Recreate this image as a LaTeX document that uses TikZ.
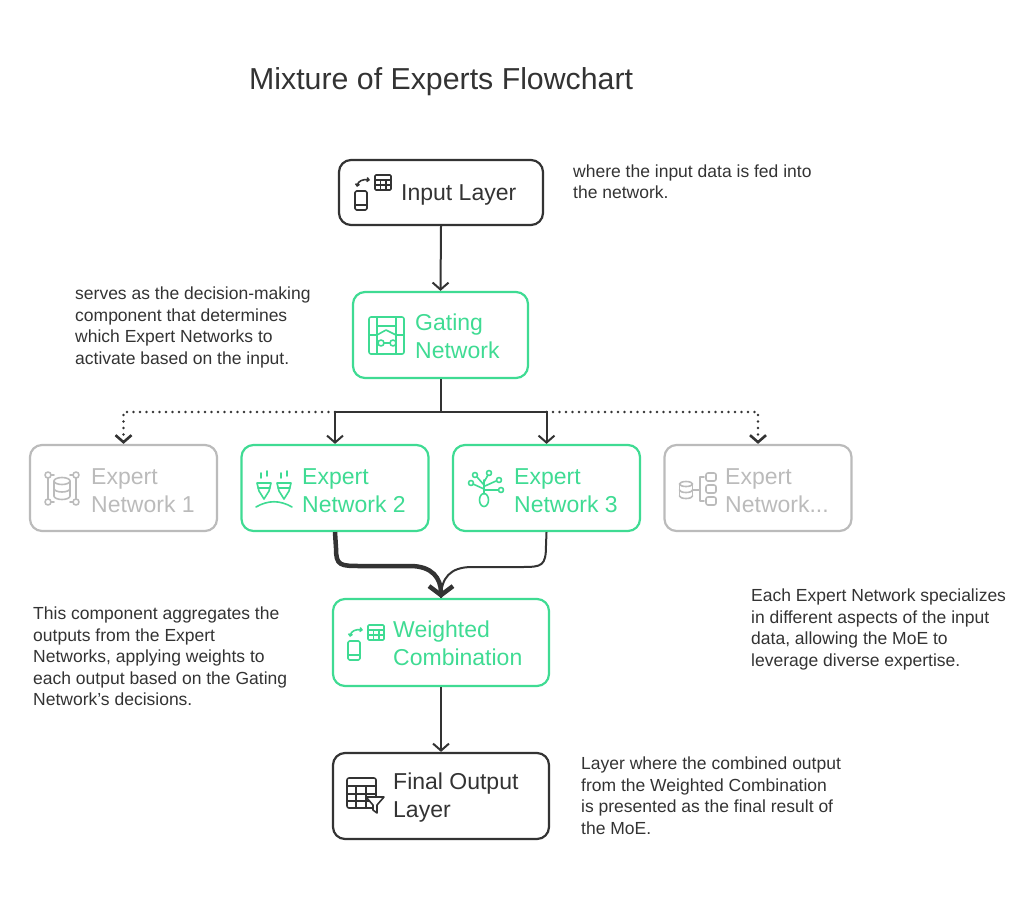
\documentclass[tikz,border=0pt]{standalone}
\usepackage{fontspec}
\setmainfont{Liberation Sans}
\usetikzlibrary{arrows.meta}
\definecolor{ink}{HTML}{333333}
\definecolor{mint}{HTML}{3FDB93}
\definecolor{ash}{HTML}{BBBBBB}
\begin{document}
\begin{tikzpicture}
[x=1pt,y=-1pt,
 boxdark/.style={draw=ink,line width=2.2pt,rounded corners=12pt,minimum height=86pt,inner sep=0pt},
 boxgreen/.style={boxdark,draw=mint},
 boxgray/.style={boxdark,draw=ash},
 boxlabel/.style={font=\fontsize{23}{28}\selectfont,align=left,inner sep=0pt,anchor=west},
 notetext/.style={font=\fontsize{17.5}{21.5}\selectfont,align=left,text=ink,inner sep=0pt,anchor=north west},
 flowarrow/.style={draw=ink,line width=2pt,-{Straight Barb[length=7pt,width=16pt]}},
 dotarrow/.style={flowarrow,line width=2.6pt,line cap=round,dash pattern=on 0pt off 6.5pt},
 heavyarrow/.style={draw=ink,line width=4.5pt,-{Straight Barb[length=9pt,width=24pt]}},
 icon/.style={line width=1.6pt,line join=round,line cap=round},
 swapicon/.pic={
   \draw[icon,rounded corners=1.5pt] (2,17) rectangle (14,36);
   \draw[icon] (2,31) -- (14,31);
   \draw[icon,rounded corners=1pt] (22,1) rectangle (38,16);
   \draw[icon] (22,6) -- (38,6) (22,11) -- (38,11) (27.3,6) -- (27.3,16) (32.7,6) -- (32.7,16);
   \draw[icon,{Straight Barb[length=2pt,width=4pt]}-{Straight Barb[length=2pt,width=4pt]}]
     (4,13) .. controls (5,7) and (10,5) .. (17,6);
 }]
\useasboundingbox (0,0) rectangle (1024,899);
%% title
\node[font=\fontsize{30.3}{34}\selectfont,text=ink,anchor=west,inner sep=0pt] (title) at (249,82) {Mixture of Experts Flowchart};
%% boxes
\node[boxdark,minimum width=204pt,minimum height=65pt] (input) at (441,192.5) {};
\node[boxgreen,minimum width=175pt] (gate) at (440.5,335) {};
\foreach \name/\x/\boxstyle in {exp1/123.5/boxgray, exp2/335/boxgreen, exp3/546.5/boxgreen, expn/758/boxgray}
  \node[\boxstyle,minimum width=187pt] (\name) at (\x,488) {};
\node[boxgreen,minimum width=216pt,minimum height=87pt] (comb) at (441,642.5) {};
\node[boxdark,minimum width=216pt] (final) at (441,796) {};
%% box labels
\node[boxlabel,text=ink] (inputlbl) at (401,195) {Input Layer};
\node[boxlabel,text=mint] (gatelbl) at (415,336.5) {Gating\\Network};
\foreach \name/\x/\col/\num in {exp1/91/ash/1, exp2/302/mint/2, exp3/514/mint/3}
  \node[boxlabel,text=\col] (\name lbl) at (\x,490.5) {Expert\\Network \num};
\node[boxlabel,text=ash] (expnlbl) at (725,490.5) {Expert\\Network...};
\node[boxlabel,text=mint] (comblbl) at (393,643.5) {Weighted\\Combination};
\node[boxlabel,text=ink] (finallbl) at (393,797.5) {Final Output\\Layer};
%% notes
\node[notetext] (inputnote) at (573,164.5) {where the input data is fed into\\the network.};
\node[notetext] (gatenote) at (75,287) {serves as the decision-making\\component that determines\\which Expert Networks to\\activate based on the input.};
\node[notetext] (expnote) at (751,589) {Each Expert Network specializes\\in different aspects of the input\\data, allowing the MoE to\\leverage diverse expertise.};
\node[notetext] (combnote) at (33,607) {This component aggregates the\\outputs from the Expert\\Networks, applying weights to\\each output based on the Gating\\Network's decisions.};
\node[notetext] (finalnote) at (581,757) {Layer where the combined output\\from the Weighted Combination\\is presented as the final result of\\the MoE.};
%% connectors
\coordinate (fork) at (gate.south |- 0,412);
\coordinate (forkw) at (exp2.north |- fork);
\coordinate (forke) at (exp3.north |- fork);
\draw[dotarrow] (forkw) -| (exp1.north);
\draw[dotarrow] (forke) -| (expn.north);
\draw[flowarrow] (input.south) -- (gate.north);
\draw[flowarrow] (gate.south) -- (fork) -| (exp2.north);
\draw[flowarrow] (fork) -| (exp3.north);
\draw[draw=ink,line width=2pt] (exp3.south) -- (546,545) .. controls (546,566) and (542,567) .. (522,567)
  -- (472,567) .. controls (450,567) and (441,578) .. (comb.north);
\draw[heavyarrow] (exp2.south) -- (336,548) .. controls (336,566) and (340,566) .. (362,566)
  -- (410,566) .. controls (432,566) and (441,578) .. (comb.north);
\draw[flowarrow] (comb.south) -- (final.north);
%% icons
\pic[color=ink] at (353,174) {swapicon};
\pic[color=mint] at (346,624) {swapicon};
\begin{scope}[color=mint]
  % gating
  \draw[icon,rounded corners=2pt] (369,317) rectangle (404,354);
  \draw[icon] (377,317) -- (377,354) (396,317) -- (396,354) (377,326) -- (396,326)
    (369,335) -- (377,335) (396,335) -- (404,335) (377,335) -- (386,330) -- (396,335)
    (384,343) -- (390,343);
  \draw[icon,fill=white] (381,343) circle (3) (393,343) circle (3);
  % expert 2
  \foreach \cx in {264,284} {
    \draw[icon] (\cx-7,483) -- (\cx+7,483) -- (\cx+5,491) -- (\cx,499) -- (\cx-5,491) -- cycle;
    \draw[icon] (\cx-6,488) -- (\cx+6,488);
    \draw[icon] (\cx-3,473) -- (\cx-3,478) (\cx+3,471) -- (\cx+3,476);
  }
  \draw[icon] (256,507) .. controls (268,500) and (280,500) .. (292,507);
  % expert 3
  \draw[icon] (484,500) ellipse (4.5 and 6.5);
  \draw[icon] (484,494) -- (484,480) (484,489) -- (473,484) (484,485) -- (477,477)
    (484,482) -- (488,475) (485,486) -- (496,481) (485,490) -- (498,490);
  \foreach \px/\py in {471/483, 475/475, 489/473, 499/480, 501/490}
    \draw[icon] (\px,\py) circle (2.5);
\end{scope}
\begin{scope}[color=ash]
  % expert 1
  \draw[icon] (62,481) ellipse (8 and 3.5);
  \draw[icon] (54,481) -- (54,496) (70,481) -- (70,496);
  \draw[icon] (54,496) arc[start angle=180,end angle=0,x radius=8,y radius=3.5];
  \draw[icon] (54,488.5) arc[start angle=180,end angle=0,x radius=8,y radius=3.5];
  \foreach \px/\py in {48/475, 76/475, 48/502, 76/502}
    \draw[icon] (\px,\py) circle (3);
  \draw[icon] (51,475) -- (54,475) (70,475) -- (73,475) (51,502) -- (54,502) (70,502) -- (73,502)
    (48,478) -- (48,499) (76,478) -- (76,499);
  % expert ...
  \draw[icon] (686,484) ellipse (6.5 and 2.5);
  \draw[icon] (679.5,484) -- (679.5,496) (692.5,484) -- (692.5,496);
  \draw[icon] (679.5,496) arc[start angle=180,end angle=0,x radius=6.5,y radius=2.5];
  \draw[icon] (679.5,490) arc[start angle=180,end angle=0,x radius=6.5,y radius=2.5];
  \draw[icon] (693,490) -- (700,490) (704,477) -- (700,477) -- (700,501) -- (704,501);
  \foreach \py in {477,489,501}
    \draw[icon,rounded corners=2pt] (706,\py-4) rectangle (716,\py+4);
\end{scope}
\begin{scope}[color=ink]
  % final output
  \draw[icon,rounded corners=2pt] (347,778) rectangle (376,808);
  \draw[icon] (347,786) -- (376,786) (347,794) -- (376,794) (347,801) -- (376,801)
    (356,786) -- (356,808) (366,786) -- (366,808);
  \draw[icon,fill=white] (366,797) -- (384,797) -- (377,805) -- (377,813) -- (373,810) -- (373,805) -- cycle;
\end{scope}
\end{tikzpicture}
\end{document}
